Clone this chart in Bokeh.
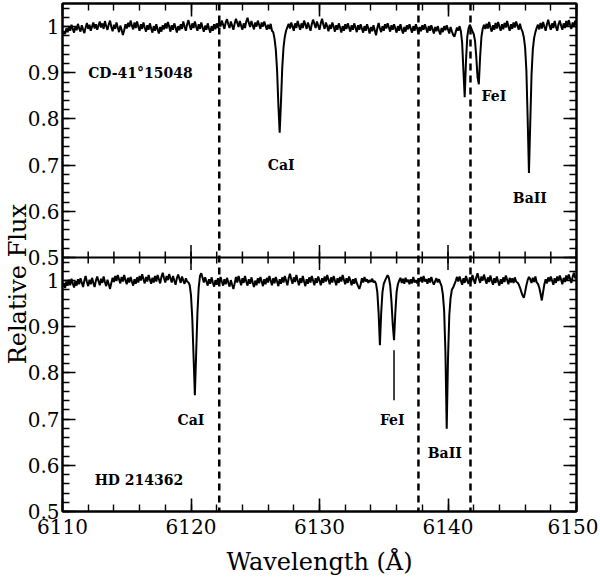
from bokeh.plotting import figure
from bokeh.models import (Range1d, FixedTicker, LinearAxis, CustomJSTickFormatter,
                          Span, ColumnDataSource)
from bokeh.embed import file_html
from bokeh.resources import INLINE
from bokeh.core.properties import value

# ---------------- data ----------------
wl_start = 6110.0
wl_step = 0.1

# CD-41 15048 (upper panel), relative flux sampled every 0.1 A from 6110.0
flux_top = [
    0.982, 0.990, 0.984, 0.996, 0.988, 0.999, 0.991, 1.004, 0.995, 0.987,  # 6110
    1.001, 0.992, 1.006, 0.996, 0.989, 1.003, 0.994, 0.986, 0.998, 1.008,  # 6111
    0.995, 1.004, 0.991, 1.000, 1.009, 0.996, 1.005, 0.993, 1.002, 1.011,  # 6112
    0.998, 1.007, 0.995, 1.012, 1.001, 0.993, 1.005, 1.013, 0.999, 0.990,  # 6113
    1.004, 0.995, 1.009, 0.998, 0.988, 1.002, 0.993, 0.982, 0.992, 1.005,  # 6114
    0.996, 1.008, 0.999, 1.013, 1.002, 0.994, 1.009, 0.997, 1.011, 1.000,  # 6115
    0.991, 1.005, 0.995, 1.009, 0.998, 0.989, 1.003, 0.993, 1.007, 0.996,  # 6116
    0.987, 1.001, 0.991, 1.005, 0.994, 0.985, 0.999, 0.989, 1.003, 0.994,  # 6117
    1.007, 0.996, 1.010, 1.000, 0.989, 1.003, 0.993, 1.007, 0.998, 0.987,  # 6118
    1.001, 0.992, 1.005, 0.995, 1.011, 1.000, 0.991, 1.005, 1.014, 1.002,  # 6119
    0.993, 1.007, 0.997, 1.011, 1.000, 0.991, 1.005, 0.995, 1.009, 0.998,  # 6120
    0.989, 1.002, 0.993, 1.007, 0.996, 0.987, 1.001, 0.991, 1.005, 0.994,  # 6121
    1.007, 0.997, 1.011, 1.000, 1.013, 1.004, 0.995, 1.009, 1.016, 1.005,  # 6122
    0.997, 1.011, 1.002, 0.993, 1.007, 1.017, 1.008, 0.999, 1.012, 1.002,  # 6123
    0.993, 1.007, 0.997, 1.011, 1.019, 1.008, 0.999, 1.012, 1.003, 0.994,  # 6124
    1.009, 1.000, 1.013, 1.004, 0.995, 1.009, 1.000, 1.011, 1.002, 0.993,  # 6125
    1.004, 0.995, 1.006, 0.991, 0.988, 0.974, 0.950, 0.905, 0.830, 0.770,  # 6126
    0.835, 0.910, 0.955, 0.978, 0.991, 0.999, 1.006, 0.996, 1.009, 1.000,  # 6127
    0.991, 1.007, 0.997, 1.012, 1.002, 0.993, 1.007, 0.997, 1.013, 1.004,  # 6128
    0.995, 1.009, 1.000, 0.991, 1.005, 1.015, 1.006, 0.997, 1.011, 1.002,  # 6129
    0.993, 1.007, 1.017, 1.004, 0.995, 1.009, 1.000, 0.990, 1.004, 0.995,  # 6130
    1.009, 1.000, 0.989, 1.003, 0.993, 1.007, 0.998, 0.987, 1.001, 0.991,  # 6131
    1.005, 0.995, 1.007, 0.998, 0.989, 1.003, 0.993, 1.007, 0.998, 0.988,  # 6132
    1.003, 0.993, 1.005, 0.996, 0.987, 1.001, 0.991, 1.005, 0.996, 0.985,  # 6133
    0.999, 0.990, 1.003, 0.992, 0.981, 0.997, 1.008, 0.996, 0.988, 1.001,  # 6134
    0.991, 1.005, 0.996, 1.007, 0.998, 0.989, 1.003, 0.993, 1.005, 0.996,  # 6135
    0.987, 1.001, 0.991, 1.005, 0.994, 0.985, 0.999, 0.989, 1.003, 0.994,  # 6136
    1.005, 0.996, 0.987, 1.001, 0.991, 1.005, 0.996, 0.985, 0.999, 0.990,  # 6137
    1.003, 0.993, 1.005, 0.996, 0.987, 1.001, 0.991, 1.003, 0.994, 0.985,  # 6138
    0.999, 0.990, 1.001, 0.991, 0.983, 0.997, 0.988, 1.001, 0.992, 1.003,  # 6139
    0.994, 0.985, 0.999, 0.990, 0.982, 0.978, 0.988, 0.998, 0.991, 1.001,  # 6140
    0.990, 0.965, 0.905, 0.847, 0.925, 0.978, 0.996, 1.004, 0.997, 0.990,  # 6141
    0.984, 0.970, 0.935, 0.890, 0.875, 0.935, 0.977, 0.995, 1.004, 0.995,  # 6142
    1.006, 0.996, 1.010, 0.998, 0.989, 1.003, 0.993, 1.008, 0.996, 1.010,  # 6143
    1.000, 0.991, 1.005, 0.994, 1.008, 0.998, 1.012, 1.000, 0.991, 1.005,  # 6144
    0.995, 1.009, 0.998, 1.011, 1.002, 0.993, 1.006, 0.995, 0.989, 0.977,  # 6145
    0.955, 0.905, 0.800, 0.683, 0.790, 0.895, 0.950, 0.975, 0.988, 0.997,  # 6146
    1.004, 0.994, 1.008, 0.996, 1.010, 1.000, 0.991, 1.005, 1.015, 1.002,  # 6147
    0.993, 1.007, 0.997, 1.012, 1.000, 0.991, 1.005, 1.013, 1.002, 0.993,  # 6148
    1.007, 0.997, 1.012, 1.000, 1.014, 1.004, 0.995, 1.009, 1.000, 1.013,  # 6149
    1.004,
]

# HD 214362 (lower panel)
flux_bot = [
    0.986, 0.995, 0.984, 0.998, 0.989, 1.002, 0.990, 1.004, 0.994, 0.985,  # 6110
    0.999, 0.989, 1.003, 0.992, 1.005, 0.996, 0.986, 1.000, 1.010, 0.997,  # 6111
    0.988, 1.002, 0.992, 1.006, 0.995, 0.986, 1.000, 1.009, 0.999, 0.990,  # 6112
    1.004, 0.995, 1.009, 0.997, 0.988, 1.002, 0.992, 0.982, 0.995, 1.006,  # 6113
    0.997, 1.010, 0.999, 1.012, 1.003, 0.994, 1.008, 0.998, 1.012, 1.001,  # 6114
    0.992, 1.006, 0.996, 1.008, 0.998, 0.989, 1.003, 0.993, 1.007, 0.996,  # 6115
    1.010, 1.000, 1.014, 1.003, 0.994, 1.008, 0.998, 1.012, 1.002, 0.993,  # 6116
    1.006, 0.996, 1.010, 0.998, 1.012, 1.003, 0.994, 1.008, 1.017, 1.005,  # 6117
    0.996, 1.010, 1.001, 1.014, 1.005, 0.996, 1.010, 1.000, 0.991, 1.005,  # 6118
    1.013, 1.004, 0.995, 1.009, 1.000, 0.993, 1.005, 0.998, 0.996, 0.990,  # 6119
    0.968, 0.918, 0.835, 0.752, 0.840, 0.930, 0.985, 1.010, 1.016, 1.006,  # 6120
    0.996, 1.007, 0.998, 0.989, 1.003, 0.993, 1.007, 0.996, 0.987, 1.001,  # 6121
    0.991, 1.005, 0.994, 1.008, 0.998, 0.989, 1.003, 0.992, 1.006, 0.996,  # 6122
    0.987, 1.001, 0.991, 0.982, 0.994, 1.008, 0.996, 1.010, 1.000, 0.990,  # 6123
    1.005, 0.995, 1.010, 0.998, 0.989, 1.003, 0.993, 1.007, 0.996, 0.986,  # 6124
    1.000, 0.990, 1.005, 0.994, 1.008, 0.998, 0.988, 1.003, 0.992, 1.006,  # 6125
    0.996, 1.010, 1.000, 0.990, 1.005, 0.994, 1.008, 0.998, 0.988, 1.003,  # 6126
    0.993, 1.007, 0.996, 1.010, 1.000, 0.990, 1.005, 1.015, 1.003, 0.993,  # 6127
    1.007, 0.997, 1.012, 1.000, 0.990, 1.005, 0.995, 1.010, 0.998, 0.988,  # 6128
    1.003, 0.993, 1.007, 0.996, 1.010, 1.000, 0.990, 1.005, 0.995, 1.009,  # 6129
    1.000, 0.990, 1.005, 0.995, 1.009, 0.998, 1.012, 1.002, 0.992, 1.007,  # 6130
    0.996, 1.010, 1.000, 0.990, 1.005, 0.995, 1.008, 0.998, 1.012, 1.002,  # 6131
    0.992, 1.005, 0.995, 1.009, 1.000, 0.990, 1.003, 0.993, 1.005, 0.995,  # 6132
    0.988, 0.982, 0.991, 1.005, 0.996, 1.008, 0.998, 1.003, 0.995, 1.001,  # 6133
    0.997, 1.004, 0.996, 0.999, 0.993, 0.975, 0.930, 0.860, 0.930, 0.975,  # 6134
    0.993, 1.000, 1.006, 1.012, 1.006, 0.990, 0.955, 0.905, 0.871, 0.930,  # 6135
    0.975, 0.992, 1.000, 1.006, 0.995, 1.004, 0.993, 1.006, 0.997, 1.002,  # 6136
    0.992, 1.003, 0.994, 1.008, 0.996, 1.001, 0.994, 1.005, 0.998, 1.008,  # 6137
    0.996, 1.010, 0.998, 1.003, 0.993, 1.005, 0.996, 1.008, 0.998, 0.991,  # 6138
    0.999, 1.005, 0.996, 1.003, 0.995, 0.988, 0.970, 0.935, 0.845, 0.679,  # 6139
    0.830, 0.925, 0.962, 0.980, 0.985, 0.992, 0.999, 1.008, 0.998, 1.009,  # 6140
    1.000, 0.991, 1.005, 0.995, 1.010, 1.000, 0.993, 1.007, 0.997, 1.012,  # 6141
    1.002, 0.993, 1.007, 1.016, 1.004, 0.995, 1.009, 1.000, 1.013, 1.002,  # 6142
    0.993, 1.007, 0.997, 1.011, 1.000, 0.991, 1.005, 0.995, 1.009, 0.998,  # 6143
    0.989, 1.003, 0.993, 1.007, 0.997, 1.011, 1.002, 0.992, 1.006, 0.996,  # 6144
    1.005, 0.995, 1.007, 0.998, 0.996, 0.992, 0.985, 0.976, 0.968, 0.963,  # 6145
    0.975, 0.990, 1.001, 1.008, 1.003, 0.995, 1.006, 0.997, 1.009, 0.996,  # 6146
    0.993, 0.985, 0.972, 0.957, 0.975, 0.992, 1.003, 0.994, 1.007, 0.998,  # 6147
    1.009, 1.000, 0.991, 1.005, 0.995, 1.009, 0.999, 1.011, 1.002, 0.992,  # 6148
    1.006, 0.997, 1.011, 1.002, 1.013, 1.004, 0.995, 1.008, 1.017, 1.005,  # 6149
    1.010,
]

wavelength = [round(wl_start + wl_step * i, 1) for i in range(len(flux_top))]

# vertical dashed reference wavelengths
dashed_wl = [6122.2, 6137.7, 6141.75]

# labels
top_star = "CD-41°15048"
top_star_pos = (6112.0, 0.90)
bot_star = "HD 214362"
bot_star_pos = (6112.5, 0.569)

top_line_labels = ["CaI", "FeI", "BaII"]
top_line_x = [6127.02, 6143.57, 6146.37]
top_line_y = [0.700, 0.850, 0.629]

bot_line_labels = ["CaI", "FeI", "BaII"]
bot_line_x = [6120.0, 6135.66, 6139.75]
bot_line_y = [0.698, 0.698, 0.627]

# FeI marker tick in lower panel
fe_marker_x = 6135.8
fe_marker_y = (0.741, 0.849)

x_major = [6110, 6120, 6130, 6140, 6150]
x_minor = [6110 + 2 * i for i in range(21)]
y_major_panel = [0.5, 0.6, 0.7, 0.8, 0.9, 1.0]
y_minor_panel = [round(0.5 + 0.02 * i, 2) for i in range(28)]

# ---------------- layout: two stacked panels in one frame ----------------
panel_lo, panel_hi = 0.5, 1.05
offset = panel_hi - panel_lo          # shift of the upper panel in frame coords
boundary = panel_hi

FONT = "DejaVu Serif"

p = figure(width=598, height=578, output_backend="svg", toolbar_location=None,
           x_range=Range1d(6110, 6150), y_range=Range1d(panel_lo, panel_hi + offset),
           min_border_left=58, min_border_right=22, min_border_top=3, min_border_bottom=63,
           background_fill_color="white", border_fill_color="white")
p.grid.visible = False
p.outline_line_color = "black"
p.outline_line_width = 2

y_ticks = [v for v in y_major_panel] + [round(v + offset, 4) for v in y_major_panel]
y_minor = [v for v in y_minor_panel] + [round(v + offset, 4) for v in y_minor_panel]
yticker = FixedTicker(ticks=y_ticks, minor_ticks=y_minor)
xticker = FixedTicker(ticks=x_major, minor_ticks=x_minor)

yfmt = CustomJSTickFormatter(args=dict(off=offset, b=boundary), code="""
    const v = tick >= b - 0.001 ? tick - off : tick;
    if (Math.abs(v - 1) < 1e-6) { return "1"; }
    return v.toFixed(1);
""")
blank = CustomJSTickFormatter(code="return '';")

def style_axis(ax, labels=True):
    ax.axis_line_width = 2
    ax.axis_line_color = "black"
    ax.major_tick_in = 13
    ax.major_tick_out = 0
    ax.minor_tick_in = 7
    ax.minor_tick_out = 0
    ax.major_tick_line_width = 1.6
    ax.minor_tick_line_width = 1.4
    ax.major_tick_line_color = "black"
    ax.minor_tick_line_color = "black"
    ax.major_label_text_font = FONT
    ax.major_label_text_color = "black"
    if labels:
        ax.major_label_text_font_size = "20px"
    else:
        ax.major_label_text_font_size = "0px"
        ax.major_label_standoff = 0

xa = p.xaxis[0]
xa.ticker = xticker
style_axis(xa)
xa.major_label_standoff = 7
xa.axis_label = "Wavelength (Å)"
xa.axis_label_text_font = FONT
xa.axis_label_text_font_size = "24px"
xa.axis_label_text_font_style = "normal"
xa.axis_label_text_color = "black"
xa.axis_label_standoff = 11

ya = p.yaxis[0]
ya.ticker = yticker
ya.formatter = yfmt
style_axis(ya)
ya.major_label_standoff = 3
ya.axis_label = "Relative Flux" + "\u00a0" * 7
ya.axis_label_text_font = FONT
ya.axis_label_text_font_size = "24px"
ya.axis_label_text_font_style = "normal"
ya.axis_label_text_color = "black"
ya.axis_label_standoff = -7

top_ax = LinearAxis(ticker=xticker, formatter=blank)
style_axis(top_ax, labels=False)
p.add_layout(top_ax, "above")
right_ax = LinearAxis(ticker=yticker, formatter=blank)
style_axis(right_ax, labels=False)
p.add_layout(right_ax, "right")

# boundary between the panels, with ticks on both sides
p.add_layout(Span(location=boundary, dimension="width", line_color="black", line_width=2))
tick_major_len = 0.027
tick_minor_len = 0.013
mid_src = ColumnDataSource(dict(
    x=x_major + x_minor,
    y0=[boundary - tick_major_len] * len(x_major) + [boundary - tick_minor_len] * len(x_minor),
    y1=[boundary + tick_major_len] * len(x_major) + [boundary + tick_minor_len] * len(x_minor),
))
p.segment(x0="x", y0="y0", x1="x", y1="y1", source=mid_src, line_color="black", line_width=1.5)

# spectra
src_top = ColumnDataSource(dict(x=wavelength, y=[f + offset for f in flux_top]))
src_bot = ColumnDataSource(dict(x=wavelength, y=flux_bot))
p.line("x", "y", source=src_top, line_color="black", line_width=2)
p.line("x", "y", source=src_bot, line_color="black", line_width=2)

# dashed lines across both panels
for w in dashed_wl:
    p.add_layout(Span(location=w, dimension="height", line_color="black",
                      line_width=2.5, line_dash="7 5"))

# FeI marker
p.segment(x0=[fe_marker_x], y0=[fe_marker_y[0]], x1=[fe_marker_x], y1=[fe_marker_y[1]],
          line_color="black", line_width=1.5)

# text labels
p.text(x=[top_star_pos[0], bot_star_pos[0]],
       y=[top_star_pos[1] + offset, bot_star_pos[1]],
       text=[top_star, bot_star], text_align="left", text_baseline="middle",
       text_font=value(FONT), text_font_size="14px", text_font_style="bold",
       text_color="black")
p.text(x=top_line_x + bot_line_x,
       y=[v + offset for v in top_line_y] + bot_line_y,
       text=top_line_labels + bot_line_labels, text_align="center", text_baseline="middle",
       text_font=value(FONT), text_font_size="14px", text_font_style="bold",
       text_color="black")

open("out.html", "w").write(file_html(p, INLINE))
